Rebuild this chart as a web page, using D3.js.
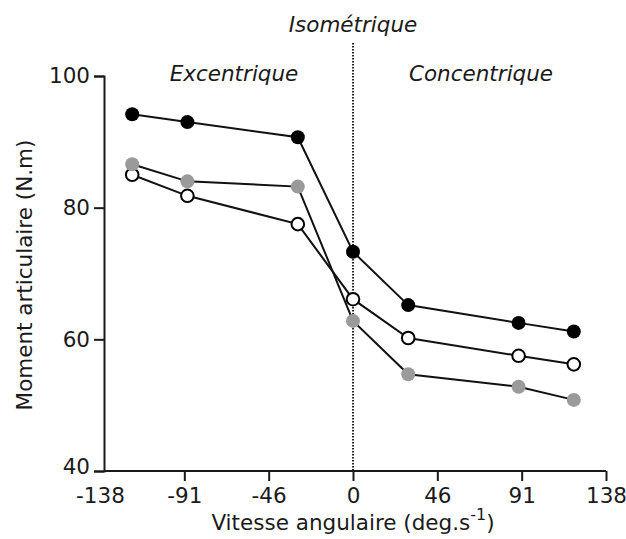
<!DOCTYPE html>
<html>
<head>
<meta charset="utf-8">
<script src="https://cdn.jsdelivr.net/npm/d3@7"></script>
<style>
  body { margin: 0; background: #fff; }
  text { font-family: "DejaVu Sans", Verdana, sans-serif; fill: #1a1a1a; }
</style>
</head>
<body>
<div id="chart-area"></div>
<script>
// data
const speeds = [-120, -90, -30, 0, 30, 90, 120];
const blackSeries = [94.2, 93.0, 90.7, 73.3, 65.2, 62.5, 61.2];
const greySeries = [86.6, 84.0, 83.2, 62.8, 54.7, 52.8, 50.8];
const whiteSeries = [85.0, 81.8, 77.5, 66.1, 60.2, 57.5, 56.2];

// ticks: evenly spaced in rad/s, labelled in deg/s
const xTickValues = [-137.5, -91.67, -45.83, 0, 45.83, 91.67, 137.5];
const xTickLabels = ["-138", "-91", "-46", "0", "46", "91", "138"];
const yTickValues = [40, 60, 80, 100];

const canvas = { width: 626, height: 539 };
const fontSize = 21.5;

const svg = d3.select("#chart-area").append("svg")
  .attr("width", canvas.width).attr("height", canvas.height);

const x = d3.scaleLinear().domain([-137.5, 137.5]).range([100, 606]);
const y = d3.scaleLinear().domain([40, 100]).range([471, 76]);

// axes
const xAxisCall = d3.axisBottom(x).tickValues(xTickValues)
  .tickFormat((d, i) => xTickLabels[i]).tickSizeOuter(0).tickSize(10);
const xAxis = svg.append("g").attr("transform", "translate(0,471)").call(xAxisCall);
xAxis.select(".domain").attr("d", "M104,0H606");

const yAxisCall = d3.axisLeft(y).tickValues(yTickValues).tickSizeOuter(0).tickSize(10);
const yAxis = svg.append("g").attr("transform", "translate(104,0)").call(yAxisCall);

[xAxis, yAxis].forEach(a => {
  a.select(".domain").attr("stroke", "#1a1a1a").attr("stroke-width", 2);
  a.selectAll(".tick line").attr("stroke", "#1a1a1a").attr("stroke-width", 2);
  a.selectAll(".tick text").attr("font-size", fontSize).attr("font-family", "DejaVu Sans").attr("fill", "#1a1a1a");
});
xAxis.selectAll(".tick").filter(d => d === -137.5).select("line").remove();
xAxis.selectAll(".tick text").attr("dy", "0.9em");
yAxis.select(".tick text").attr("dy", "0.1em");
yAxis.selectAll(".tick text").attr("x", -14);

// isometric divider
svg.append("line")
  .attr("x1", x(0)).attr("x2", x(0)).attr("y1", 43).attr("y2", 471)
  .attr("stroke", "#222").attr("stroke-width", 2).attr("stroke-dasharray", "1.5,1.5");

// lines and markers
const line = d3.line().x((d, i) => x(speeds[i])).y(d => y(d));
const series = [
  { values: blackSeries, fill: "#000", stroke: "#000" },
  { values: whiteSeries, fill: "#fff", stroke: "#000" },
  { values: greySeries, fill: "#9a9a9a", stroke: "#9a9a9a" }
];

series.forEach(s => {
  svg.append("path").attr("d", line(s.values))
    .attr("fill", "none").attr("stroke", "#111").attr("stroke-width", 2);
});
series.forEach(s => {
  svg.append("g").selectAll("circle").data(s.values).enter().append("circle")
    .attr("cx", (d, i) => x(speeds[i]))
    .attr("cy", d => y(d))
    .attr("r", s.fill === "#fff" ? 6.3 : 7)
    .attr("fill", s.fill)
    .attr("stroke", s.stroke)
    .attr("stroke-width", s.fill === "#fff" ? 2 : 0);
});

// labels
svg.append("text").attr("x", x(0)).attr("y", 32).attr("text-anchor", "middle")
  .attr("font-size", fontSize).attr("font-style", "italic").text("Isométrique");
svg.append("text").attr("x", 234).attr("y", 81).attr("text-anchor", "middle")
  .attr("font-size", fontSize).attr("font-style", "italic").text("Excentrique");
svg.append("text").attr("x", 481).attr("y", 81).attr("text-anchor", "middle")
  .attr("font-size", fontSize).attr("font-style", "italic").text("Concentrique");

const xLabel = svg.append("text").attr("x", 353).attr("y", 530).attr("text-anchor", "middle")
  .attr("font-size", fontSize);
xLabel.append("tspan").text("Vitesse angulaire (deg.s");
xLabel.append("tspan").attr("dy", -10).attr("font-size", 16).text("-1");
xLabel.append("tspan").attr("dy", 10).text(")");

svg.append("text").attr("transform", "translate(32,275) rotate(-90)")
  .attr("text-anchor", "middle").attr("font-size", fontSize)
  .text("Moment articulaire (N.m)");
</script>
</body>
</html>
